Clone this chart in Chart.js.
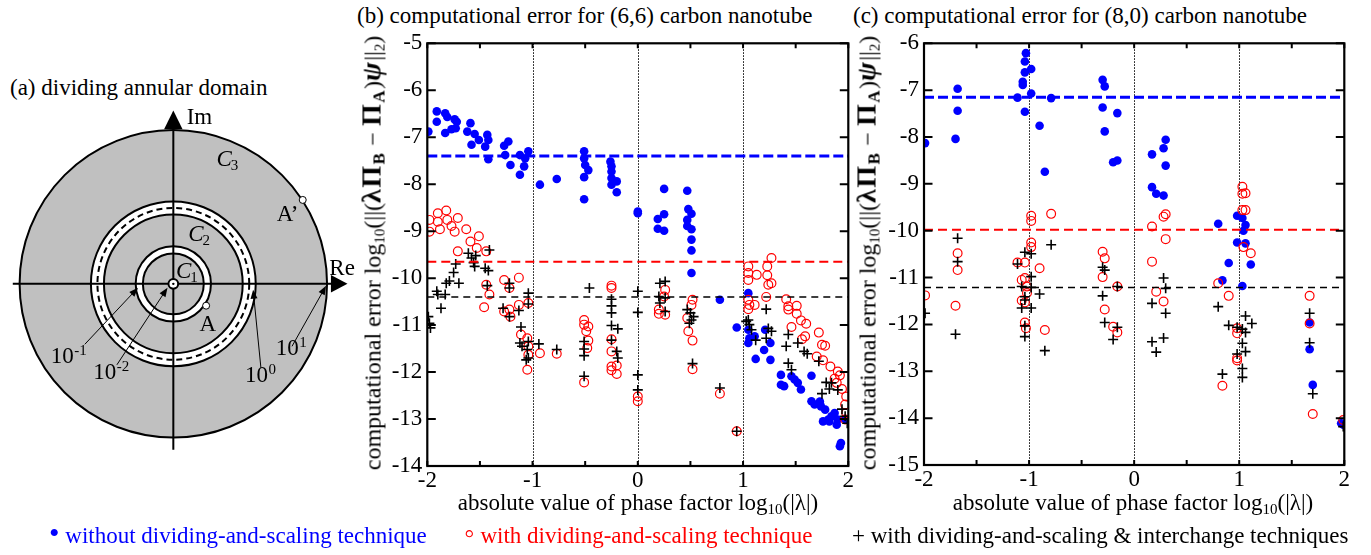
<!DOCTYPE html>
<html lang="en">
<head>
<meta charset="UTF-8">
<title>Computational error for carbon nanotubes</title>
<script src="https://cdn.jsdelivr.net/npm/chart.js"></script>
<style>
  body { margin: 0; background: #fff; }
  #page { position: relative; width: 1371px; height: 555px; overflow: hidden;
          font-family: "Liberation Serif", "Times New Roman", serif; }
  canvas { position: absolute; }
  .txt { position: absolute; font-size: 23px; line-height: 23px; white-space: nowrap; color: #000; }
  .txt sub { font-size: 15px; vertical-align: -4px; line-height: 0; }
  .xtitle { transform: translateX(-50%); }
  .ytitle { transform: translate(-50%, -50%) rotate(-90deg); font-size: 24px; }
  .bf { font-weight: bold; font-size: 28px; letter-spacing: 1.5px; }
  .bf sub { font-size: 17px; }
  .mark { font-size: 30px; line-height: 0; }
</style>
</head>
<body>
<div id="page">
  <div class="txt" style="left:10px; top:76px;">(a) dividing annular domain</div>
  <div class="txt" style="left:357px; top:4px;">(b) computational error for (6,6) carbon nanotube</div>
  <div class="txt" style="left:853px; top:4px;">(c) computational error for (8,0) carbon nanotube</div>

  <canvas id="domain" width="370" height="410" style="left:0; top:60px;"></canvas>
  <canvas id="tube66" width="512" height="520" style="left:345px; top:0;"></canvas>
  <canvas id="tube80" width="520" height="520" style="left:842px; top:0;"></canvas>

  <div class="txt xtitle" style="left:638px; top:491px;">absolute value of phase factor log<sub>10</sub>(|λ|)</div>
  <div class="txt xtitle" style="left:1133px; top:491px;">absolute value of phase factor log<sub>10</sub>(|λ|)</div>
  <div class="txt ytitle" style="left:371.5px; top:253px;">computational error log<sub>10</sub>(||(<span class="bf">λΠ<sub>B</sub></span> − <span class="bf">Π<sub>A</sub></span>)<span class="bf"><i>ψ</i></span>||<sub>2</sub>)</div>
  <div class="txt ytitle" style="left:867px; top:253px;">computational error log<sub>10</sub>(||(<span class="bf">λΠ<sub>B</sub></span> − <span class="bf">Π<sub>A</sub></span>)<span class="bf"><i>ψ</i></span>||<sub>2</sub>)</div>

  <div class="txt" style="left:49px; top:524px; color:#0000ff;"><span class="mark">•</span> without dividing-and-scaling technique</div>
  <div class="txt" style="left:464px; top:524px; color:#ff0000;"><span class="mark">◦</span> with dividing-and-scaling technique</div>
  <div class="txt" style="left:852px; top:524px;">+ with dividing-and-scaling &amp; interchange techniques</div>
</div>

<script>
    // ---- data: [log10|lambda|, log10 error] ----
    const tube66Without = [
        [-1.99,-6.88],[-1.91,-6.45],[-1.91,-6.67],[-1.83,-6.49],[-1.83,-6.91],[-1.81,-6.57],[-1.74,-6.62],
        [-1.72,-6.67],[-1.73,-6.81],[-1.77,-6.83],[-1.62,-6.88],[-1.59,-6.70],[-1.55,-6.93],[-1.51,-7.06],
        [-1.58,-7.16],[-1.43,-6.95],[-1.42,-7.06],[-1.45,-7.20],[-1.42,-7.47],[-1.27,-7.18],[-1.23,-7.09],
        [-1.26,-7.38],[-1.21,-7.59],[-1.12,-7.38],[-1.12,-7.80],[-1.08,-7.62],[-1.07,-7.45],[-1.04,-7.30],
        [-0.93,-8.01],[-0.77,-7.89],[-0.51,-7.30],[-0.51,-7.45],[-0.50,-7.59],[-0.47,-7.70],[-0.51,-7.85],
        [-0.51,-8.32],[-0.26,-7.52],[-0.25,-7.62],[-0.25,-7.73],[-0.25,-7.87],[-0.25,-8.01],[-0.20,-7.94],
        [-0.20,-8.17],[0.00,-8.58],[0.00,-8.62],[0.25,-8.10],[0.25,-8.64],[0.19,-8.74],[0.19,-8.95],
        [0.25,-8.99],[0.47,-8.14],[0.48,-8.53],[0.51,-8.63],[0.47,-8.76],[0.47,-8.89],[0.51,-8.96],
        [0.51,-9.18],[0.51,-9.41],[0.51,-9.89],[0.78,-10.46],[0.94,-11.05],[1.05,-10.32],[1.05,-11.10],
        [1.06,-11.28],[1.05,-11.38],[1.11,-11.24],[1.12,-11.72],[1.20,-11.53],[1.26,-11.74],[1.26,-11.38],
        [1.21,-11.10],[1.36,-12.06],[1.36,-12.27],[1.46,-12.09],[1.49,-12.16],[1.52,-12.23],[1.55,-12.37],
        [1.39,-12.30],[1.65,-12.08],[1.65,-12.62],[1.68,-12.69],[1.74,-12.73],[1.78,-12.80],[1.76,-13.05],
        [1.81,-13.01],[1.84,-12.94],[1.87,-12.87],[1.90,-13.01],[1.92,-13.58],[1.93,-13.51],[1.73,-12.63],
        [1.82,-13.05],[1.89,-13.12],[1.97,-13.00]
    ];
    const tube66Scaling = [
        [-1.98,-8.76],[-1.98,-9.01],[-1.90,-8.62],[-1.90,-8.80],[-1.82,-8.56],[-1.81,-8.76],[-1.88,-8.96],
        [-1.77,-8.89],[-1.74,-9.01],[-1.71,-8.72],[-1.71,-9.43],[-1.63,-8.96],[-1.59,-9.22],[-1.51,-9.11],
        [-1.53,-9.36],[-1.44,-9.43],[-1.44,-10.14],[-1.41,-10.35],[-1.46,-10.62],[-1.27,-10.04],[-1.22,-10.21],
        [-1.13,-9.99],[-1.27,-10.71],[-1.22,-10.67],[-1.21,-10.82],[-1.13,-10.57],[-1.04,-10.53],[-1.11,-11.20],
        [-1.05,-11.28],[-1.04,-11.45],[-1.04,-11.63],[-1.05,-11.95],[-0.93,-11.60],[-0.77,-11.61],[-0.51,-10.89],
        [-0.51,-10.99],[-0.49,-11.13],[-0.47,-11.03],[-0.47,-11.33],[-0.48,-11.49],[-0.51,-12.22],[-0.25,-10.16],
        [-0.25,-10.21],[-0.25,-11.30],[-0.25,-11.56],[-0.25,-11.88],[-0.20,-11.86],[-0.25,-11.96],[-0.20,-12.04],
        [0.00,-12.52],[0.00,-12.62],[0.26,-10.25],[0.25,-10.39],[0.20,-10.67],[0.20,-10.76],[0.26,-10.78],
        [0.52,-10.46],[0.51,-10.57],[0.47,-10.85],[0.48,-11.13],[0.52,-11.33],[0.52,-11.94],[0.78,-12.46],
        [0.94,-13.26],[1.05,-9.75],[1.05,-9.89],[1.05,-10.04],[1.13,-9.93],[1.23,-9.75],[1.23,-9.94],
        [1.24,-10.14],[1.27,-10.11],[1.27,-9.57],[1.22,-10.40],[1.05,-10.46],[1.06,-10.57],[1.05,-10.66],
        [1.11,-10.57],[1.41,-10.45],[1.43,-10.60],[1.43,-10.67],[1.51,-10.59],[1.51,-10.76],[1.55,-10.90],
        [1.60,-10.97],[1.46,-11.04],[1.56,-11.30],[1.59,-11.24],[1.75,-11.42],[1.78,-11.44],[1.72,-11.16],
        [1.70,-11.67],[1.76,-11.75],[1.83,-11.88],[1.90,-11.99],[1.92,-12.07],[1.87,-12.14],[1.89,-12.23],
        [1.94,-12.36],[1.98,-12.52],[1.97,-12.69],[1.98,-12.87],[1.97,-13.01]
    ];
    const tube66Interchange = [
        [-1.99,-10.82],[-1.98,-10.96],[-1.97,-11.06],[-1.91,-10.28],[-1.90,-10.35],[-1.87,-10.64],[-1.82,-10.11],
        [-1.83,-10.35],[-1.79,-10.06],[-1.73,-9.70],[-1.75,-9.88],[-1.70,-10.11],[-1.61,-9.47],[-1.58,-9.57],
        [-1.56,-9.67],[-1.54,-9.52],[-1.55,-9.75],[-1.45,-9.79],[-1.42,-9.84],[-1.43,-10.16],[-1.41,-9.40],
        [-1.22,-10.11],[-1.22,-10.21],[-1.28,-10.64],[-1.22,-10.82],[-1.13,-10.69],[-1.04,-10.32],[-1.04,-10.55],
        [-1.11,-11.04],[-1.12,-11.38],[-1.10,-11.45],[-1.04,-11.35],[-1.05,-11.52],[-1.04,-11.70],[-1.06,-11.74],
        [-0.94,-11.40],[-0.77,-11.52],[-0.46,-10.21],[-0.51,-11.35],[-0.51,-11.51],[-0.51,-11.65],[-0.51,-12.09],
        [-0.25,-10.45],[-0.25,-10.59],[-0.25,-10.74],[-0.25,-11.01],[-0.19,-11.08],[-0.25,-11.32],[-0.20,-11.56],
        [-0.19,-11.70],[0.00,-10.28],[0.00,-10.73],[0.00,-12.06],[0.00,-12.38],[0.21,-10.11],[0.26,-10.07],
        [0.20,-10.39],[0.26,-10.42],[0.21,-10.53],[0.26,-10.71],[0.47,-10.67],[0.50,-10.74],[0.51,-10.89],
        [0.49,-10.96],[0.53,-10.82],[0.52,-11.82],[0.78,-12.34],[0.94,-13.26],[1.05,-10.89],[1.06,-10.99],
        [1.08,-11.10],[1.03,-10.92],[1.22,-10.66],[1.24,-11.07],[1.27,-11.13],[1.22,-11.28],[1.12,-11.32],
        [1.43,-11.20],[1.41,-11.45],[1.52,-11.38],[1.58,-11.56],[1.61,-11.61],[1.72,-11.77],[1.43,-11.81],
        [1.46,-11.95],[1.79,-12.22],[1.84,-12.23],[1.82,-12.36],[1.90,-12.38],[1.75,-12.46],[1.94,-12.79],
        [1.97,-12.94],[1.99,-13.09]
    ];
    const tube66Means = [-7.40, -9.65, -10.40];   // without, scaling, interchange

    const tube80Without = [
        [-1.99,-8.13],[-1.68,-6.97],[-1.68,-7.44],[-1.70,-8.04],[-1.03,-6.21],[-1.04,-6.39],[-1.04,-6.62],
        [-1.06,-6.82],[-1.06,-6.89],[-0.98,-6.55],[-1.11,-7.16],[-0.98,-7.07],[-1.04,-7.46],[-0.90,-7.76],
        [-0.79,-7.17],[-0.85,-8.74],[-0.30,-6.78],[-0.28,-6.92],[-0.30,-7.37],[-0.28,-7.88],[-0.16,-7.49],
        [-0.20,-8.54],[-0.16,-8.50],[0.17,-8.37],[0.17,-9.07],[0.21,-9.21],[0.28,-9.25],[0.30,-8.06],
        [0.28,-8.24],[0.30,-8.61],[0.80,-9.85],[0.90,-10.69],[0.84,-11.06],[0.98,-9.68],[1.03,-9.73],
        [1.06,-9.88],[1.04,-10.00],[0.98,-10.25],[1.06,-10.27],[1.11,-10.72],[1.03,-11.18],[1.67,-11.96],
        [1.67,-12.53],[1.70,-13.29],[1.97,-14.11],[1.99,-14.14]
    ];
    const tube80Scaling = [
        [-1.99,-11.38],[-1.68,-10.48],[-1.68,-10.84],[-1.70,-11.60],[-1.11,-10.68],[-1.04,-10.68],[-0.98,-9.68],
        [-0.98,-9.79],[-0.98,-10.25],[-0.98,-10.35],[-0.79,-9.64],[-0.90,-10.80],[-1.07,-11.05],[-1.04,-11.01],
        [-1.02,-11.19],[-1.07,-11.49],[-1.04,-11.53],[-1.02,-11.33],[-1.04,-11.96],[-1.03,-12.08],[-0.85,-12.12],
        [-0.30,-10.45],[-0.28,-10.59],[-0.30,-10.99],[-0.16,-11.19],[-0.28,-11.68],[-0.20,-12.05],[-0.16,-12.17],
        [0.17,-9.91],[0.17,-10.66],[0.28,-9.70],[0.30,-9.65],[0.30,-10.18],[0.21,-11.30],[0.28,-11.51],
        [0.90,-11.39],[0.80,-11.12],[0.84,-13.31],[1.03,-9.06],[1.03,-9.21],[1.06,-9.20],[1.03,-9.56],
        [1.06,-9.56],[1.04,-10.35],[1.11,-10.48],[0.98,-12.08],[0.98,-12.19],[0.98,-12.72],[0.98,-12.77],
        [1.67,-11.39],[1.67,-11.98],[1.70,-13.91],[1.99,-14.04]
    ];
    const tube80Interchange = [
        [-1.99,-11.76],[-1.68,-10.16],[-1.68,-10.66],[-1.70,-12.21],[-1.11,-10.71],[-1.04,-10.46],[-0.98,-10.49],
        [-0.98,-10.98],[-1.07,-11.19],[-0.98,-11.21],[-1.04,-11.41],[-1.07,-11.65],[-0.98,-11.65],[-1.04,-12.03],
        [-1.04,-12.26],[-1.04,-11.48],[-0.90,-11.35],[-0.79,-10.30],[-0.85,-12.56],[-0.30,-10.78],[-0.28,-10.84],
        [-0.30,-11.39],[-0.28,-11.96],[-0.16,-11.19],[-0.16,-12.06],[-0.20,-12.32],[0.28,-11.01],[0.30,-11.23],
        [0.17,-11.55],[0.30,-11.76],[0.17,-12.37],[0.28,-12.29],[0.21,-12.59],[0.80,-11.62],[0.84,-13.06],
        [0.90,-12.02],[0.98,-12.06],[1.06,-11.82],[1.12,-11.98],[1.03,-12.10],[1.06,-12.17],[1.03,-12.40],
        [0.98,-12.63],[1.06,-12.58],[1.03,-12.94],[1.03,-13.13],[1.67,-11.76],[1.67,-12.39],[1.70,-13.48],
        [1.99,-14.18]
    ];
    const tube80Means = [-7.15, -9.98, -11.21];

    const xRange = [-2, 2];
    const dividerX = [-1, 0, 1];
    const tube66YRange = [-14, -5];
    const tube80YRange = [-15, -6];

    // points A and A' on the annular domain sketch
    const domainPoints = [[33.7, -22.4], [133, 86]];

    const BLUE = '#0000ff', RED = '#ff0000';
    const SERIF = '"Liberation Serif", "Times New Roman", serif';

    const toXY = arr => arr.map(p => ({x: p[0], y: p[1]}));

    function meanLine(value, color, width, dash) {
        return {
            data: [{x: xRange[0], y: value}, {x: xRange[1], y: value}],
            showLine: true, borderColor: color, borderWidth: width, borderDash: dash,
            pointRadius: 0, fill: false
        };
    }

    // gnuplot style frame: dotted dividers, inward ticks on all sides
    const framePlugin = {
        id: 'frame',
        beforeDatasetsDraw(chart) {
            const {ctx, chartArea: a, scales: {x}} = chart;
            ctx.save();
            ctx.strokeStyle = '#000';
            ctx.lineWidth = 1;
            ctx.setLineDash([1.5, 1.5]);
            dividerX.forEach(v => {
                const px = Math.round(x.getPixelForValue(v)) + 0.5;
                ctx.beginPath();
                ctx.moveTo(px, a.top);
                ctx.lineTo(px, a.bottom);
                ctx.stroke();
            });
            ctx.restore();
        },
        afterDatasetsDraw(chart) {
            const {ctx, chartArea: a, scales: {x, y}} = chart;
            ctx.save();
            ctx.strokeStyle = '#000';
            ctx.lineWidth = 2;
            ctx.beginPath();
            x.ticks.forEach(t => {
                const px = x.getPixelForValue(t.value);
                ctx.moveTo(px, a.bottom); ctx.lineTo(px, a.bottom - 5);
                ctx.moveTo(px, a.top); ctx.lineTo(px, a.top + 5);
            });
            y.ticks.forEach(t => {
                const py = y.getPixelForValue(t.value);
                ctx.moveTo(a.left, py); ctx.lineTo(a.left + 8.5, py);
                ctx.moveTo(a.right, py); ctx.lineTo(a.right - 8.5, py);
            });
            ctx.stroke();
            ctx.lineWidth = 2.2;
            ctx.strokeRect(a.left, a.top, a.right - a.left, a.bottom - a.top);
            ctx.restore();
        }
    };

    function errorPanel(id, without, scaling, interchange, means, yRange, box) {
        return new Chart(document.getElementById(id), {
            type: 'scatter',
            data: {
                datasets: [
                    meanLine(means[0], BLUE, 3, [10, 4]),
                    meanLine(means[1], RED, 2, [9, 5]),
                    meanLine(means[2], '#000', 1.5, [7, 5]),
                    {
                        data: toXY(interchange), pointStyle: 'cross', pointRadius: 5,
                        pointBorderColor: '#000', pointBorderWidth: 1.6, showLine: false
                    },
                    {
                        data: toXY(scaling), pointStyle: 'circle', pointRadius: 4.4,
                        pointBorderColor: RED, pointBackgroundColor: 'rgba(0,0,0,0)',
                        pointBorderWidth: 1.2, showLine: false
                    },
                    {
                        data: toXY(without), pointStyle: 'circle', pointRadius: 4.3,
                        pointBorderColor: BLUE, pointBackgroundColor: BLUE,
                        pointBorderWidth: 0, showLine: false
                    }
                ]
            },
            options: {
                responsive: false,
                animation: false,
                events: [],
                clip: 0,
                layout: { padding: { top: box.top, right: box.right, left: 0, bottom: 0 } },
                plugins: { legend: { display: false }, tooltip: { enabled: false } },
                scales: {
                    x: {
                        type: 'linear', min: xRange[0], max: xRange[1],
                        grid: { display: false, drawTicks: false }, border: { display: false },
                        afterFit: s => { s.height = box.xHeight; },
                        ticks: {
                            stepSize: 0.5, autoSkip: false, maxRotation: 0, padding: 1,
                            color: '#000', font: { family: SERIF, size: 23 },
                            callback: v => Number.isInteger(v) ? String(v) : ''
                        }
                    },
                    y: {
                        type: 'linear', min: yRange[0], max: yRange[1],
                        grid: { display: false, drawTicks: false }, border: { display: false },
                        afterFit: s => { s.width = box.yWidth; },
                        ticks: {
                            stepSize: 1, padding: 5,
                            color: '#000', font: { family: SERIF, size: 23 },
                            callback: v => String(v)
                        }
                    }
                }
            },
            plugins: [framePlugin]
        });
    }

    errorPanel('tube66', tube66Without, tube66Scaling, tube66Interchange, tube66Means, tube66YRange,
        { top: 43.3, right: 8.7, yWidth: 82.3, xHeight: 54 });
    errorPanel('tube80', tube80Without, tube80Scaling, tube80Interchange, tube80Means, tube80YRange,
        { top: 43.3, right: 17.7, yWidth: 82, xHeight: 55 });

    // ---- (a) annular domain sketch, drawn in its own linear scales (1 unit ~ 1 px) ----
    const domain = {
        outer: 158, midOuter: 84.7, midDash: 78, midInner: 71.3,
        inOuter: 38.7, inInner: 31.3, core: 5
    };
    const radiusLabels = [
        { sup: '-1', at: [-126, -80.7], from: [-91, -62], to: [-36.3, -4] },
        { sup: '-2', at: [-82.3, -97.4], from: [-58, -83], to: [-6, -4] },
        { sup: '0',  at: [73.7, -100.7], from: [90, -86], to: [82, -6] },
        { sup: '1',  at: [105.3, -73], from: [122, -64], to: [157, -2] }
    ];

    const domainPlugin = {
        id: 'annulus',
        beforeDatasetsDraw(chart) {
            const {ctx, scales: {x, y}} = chart;
            const X = v => x.getPixelForValue(v), Y = v => y.getPixelForValue(v);
            const R = r => X(r) - X(0);
            const cx = X(0), cy = Y(0);
            const circle = r => { ctx.beginPath(); ctx.arc(cx, cy, R(r), 0, 2 * Math.PI); };
            ctx.save();
            // fills
            circle(domain.outer); ctx.fillStyle = '#c0c0c0'; ctx.fill();
            circle(domain.midOuter); ctx.fillStyle = '#fff'; ctx.fill();
            circle(domain.midInner); ctx.fillStyle = '#c0c0c0'; ctx.fill();
            circle(domain.inOuter); ctx.fillStyle = '#fff'; ctx.fill();
            circle(domain.inInner); ctx.fillStyle = '#c0c0c0'; ctx.fill();
            // axes with arrows
            ctx.strokeStyle = '#000'; ctx.fillStyle = '#000'; ctx.lineWidth = 2;
            ctx.beginPath();
            ctx.moveTo(X(-165), cy); ctx.lineTo(X(163), cy);
            ctx.moveTo(cx, Y(-170)); ctx.lineTo(cx, Y(159));
            ctx.stroke();
            ctx.beginPath();
            ctx.moveTo(X(179), cy); ctx.lineTo(X(162), Y(9)); ctx.lineTo(X(162), Y(-9)); ctx.closePath();
            ctx.fill();
            ctx.beginPath();
            ctx.moveTo(cx, Y(177.6)); ctx.lineTo(X(-9.5), Y(158.5)); ctx.lineTo(X(9.5), Y(158.5)); ctx.closePath();
            ctx.fill();
            // circle outlines
            [domain.outer, domain.midOuter, domain.midInner, domain.inOuter, domain.inInner].forEach(r => {
                circle(r); ctx.stroke();
            });
            ctx.setLineDash([6, 4]);
            circle(domain.midDash); ctx.stroke();
            ctx.setLineDash([]);
            circle(domain.core); ctx.fillStyle = '#fff'; ctx.fill(); ctx.stroke();
            ctx.beginPath(); ctx.arc(cx, cy, 1.2, 0, 2 * Math.PI); ctx.fillStyle = '#000'; ctx.fill();

            // radius annotations
            ctx.lineWidth = 1;
            radiusLabels.forEach(l => {
                const x1 = X(l.from[0]), y1 = Y(l.from[1]), x2 = X(l.to[0]), y2 = Y(l.to[1]);
                const ang = Math.atan2(y2 - y1, x2 - x1);
                ctx.beginPath(); ctx.moveTo(x1, y1);
                ctx.lineTo(x2 - 6 * Math.cos(ang), y2 - 6 * Math.sin(ang)); ctx.stroke();
                ctx.beginPath(); ctx.moveTo(x2, y2);
                ctx.lineTo(x2 - 9 * Math.cos(ang) + 3.5 * Math.sin(ang), y2 - 9 * Math.sin(ang) - 3.5 * Math.cos(ang));
                ctx.lineTo(x2 - 9 * Math.cos(ang) - 3.5 * Math.sin(ang), y2 - 9 * Math.sin(ang) + 3.5 * Math.cos(ang));
                ctx.closePath(); ctx.fill();
                ctx.font = '23px ' + SERIF;
                ctx.textBaseline = 'alphabetic';
                const tx = X(l.at[0]), ty = Y(l.at[1]);
                ctx.fillText('10', tx, ty);
                const w = ctx.measureText('10').width;
                ctx.font = '15px ' + SERIF;
                ctx.fillText(l.sup, tx + w + 0.5, ty - 8);
            });

            // labels
            ctx.fillStyle = '#000';
            ctx.textBaseline = 'alphabetic';
            ctx.font = '23px ' + SERIF;
            ctx.fillText('Im', X(13.7), Y(164.3));
            ctx.fillText('Re', X(160.3), Y(9.3));
            ctx.fillText('A\u2019', X(106.3), Y(64.3));
            ctx.fillText('A', X(27), Y(-48));
            [['3', 44.3, 121], ['2', 15.3, 44.3], ['1', 2.7, 6]].forEach(([sub, lx, ly]) => {
                ctx.font = 'italic 23px ' + SERIF;
                ctx.fillText('C', X(lx), Y(ly));
                const w = ctx.measureText('C').width;
                ctx.font = '15px ' + SERIF;
                ctx.fillText(sub, X(lx) + w - 1, Y(ly) + 4);
            });
            ctx.restore();
        }
    };

    new Chart(document.getElementById('domain'), {
        type: 'scatter',
        data: {
            datasets: [{
                data: toXY(domainPoints), pointStyle: 'circle', pointRadius: 3.5,
                pointBackgroundColor: '#fff', pointBorderColor: '#000', pointBorderWidth: 1
            }]
        },
        options: {
            responsive: false,
            animation: false,
            events: [],
            layout: { padding: 0 },
            plugins: { legend: { display: false }, tooltip: { enabled: false } },
            scales: {
                x: { type: 'linear', min: -173, max: 197, display: false },
                y: { type: 'linear', min: -185.7, max: 224.3, display: false }
            }
        },
        plugins: [domainPlugin]
    });
</script>
</body>
</html>
